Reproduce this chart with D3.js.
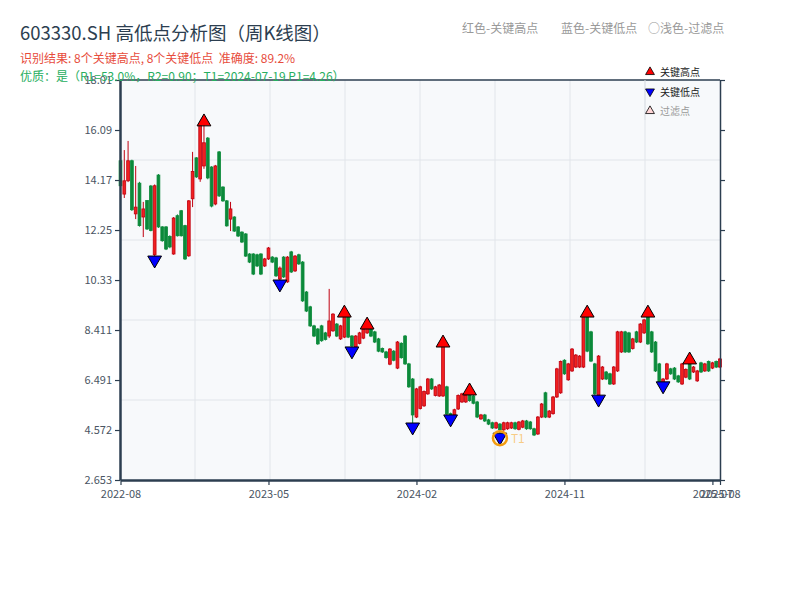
<!DOCTYPE html>
<html>
<head>
<meta charset="utf-8">
<script src="https://cdn.jsdelivr.net/npm/d3@7"></script>
<style>
  body { margin: 0; background: #fff; }
  svg text { font-family: "Noto Sans CJK SC", "Noto Sans", sans-serif; white-space: pre; }
</style>
</head>
<body>
<div id="chart"></div>
<script>
// weekly K-line (index 0 = first week of 2022-08)
const opens = [14.91,13.63,14.14,14.91,12.87,14.05,12.75,13.38,13.94,11.30,14.36,12.37,12.37,12.00,11.33,12.80,12.99,12.42,11.26,13.45,
  15.02,14.21,14.71,15.78,14.67,13.25,15.25,13.90,13.37,12.67,12.75,12.37,12.17,12.10,11.33,11.33,11.30,11.33,10.87,11.14,
  11.21,11.18,10.37,11.21,10.26,11.41,10.68,11.30,11.02,9.87,9.30,8.57,8.45,8.57,8.30,8.18,8.38,8.64,8.07,8.14,
  8.95,8.18,7.75,7.90,8.10,8.30,8.45,8.34,8.07,7.70,7.57,7.10,7.60,6.95,7.90,8.18,7.11,6.53,5.07,5.40,
  5.50,5.96,6.53,5.90,5.88,5.88,6.23,5.20,5.07,5.38,5.65,5.65,5.96,5.88,5.65,5.00,5.15,4.96,4.85,4.65,
  4.80,4.58,4.62,4.65,4.85,4.60,4.68,4.92,4.88,4.62,4.42,5.07,6.00,5.07,5.20,5.84,6.00,7.25,6.50,6.84,
  6.99,6.99,6.99,8.95,8.34,7.11,5.88,6.53,6.80,6.73,6.34,6.84,7.57,8.34,8.30,7.70,8.34,7.95,8.30,8.95,
  8.34,7.95,7.11,6.30,6.53,6.92,6.95,6.65,6.34,6.60,7.11,6.80,6.46,7.15,6.84,7.20,6.95,7.20,6.99];
const closes = [13.95,14.14,14.91,13.03,13.13,12.42,13.06,12.29,12.23,13.95,12.37,11.84,11.52,11.60,12.71,12.03,12.03,11.14,13.37,14.50,
  14.29,16.30,15.60,14.25,13.17,14.71,13.56,13.37,12.41,13.06,12.21,12.02,11.79,11.25,11.02,10.56,10.87,10.56,11.14,11.56,
  11.02,10.49,10.79,10.45,11.21,10.64,11.25,10.95,9.53,9.14,8.57,8.18,7.88,8.00,8.05,8.76,9.02,8.18,8.57,8.95,
  8.14,7.80,8.18,8.30,8.45,8.52,8.18,7.95,7.60,7.57,7.35,7.68,7.25,7.95,7.35,7.11,6.23,5.15,6.15,6.23,
  6.05,6.53,6.15,6.23,6.30,7.80,5.19,5.05,5.35,5.90,5.96,5.90,5.70,5.60,5.07,5.15,4.92,4.80,4.65,4.85,
  4.58,4.85,4.85,4.85,4.62,4.88,4.92,4.62,4.62,4.38,5.07,5.57,5.07,5.30,5.84,6.92,7.20,6.73,7.11,7.68,
  7.45,7.41,8.95,7.60,7.22,5.96,7.41,6.99,6.53,6.34,6.99,8.34,8.34,7.57,7.57,8.07,7.95,8.64,8.80,7.88,
  7.57,6.84,6.42,6.53,7.11,6.73,6.53,6.42,7.11,6.90,6.53,6.99,6.84,6.80,7.11,6.84,7.15,6.99,7.30];
const highs = [15.00,15.32,15.67,14.95,14.71,14.10,13.33,13.40,13.98,14.00,14.40,12.40,12.40,12.05,12.75,12.85,13.02,12.45,13.40,15.25,
  15.05,16.35,16.44,15.82,14.70,14.75,15.28,13.93,13.40,13.33,12.78,12.40,12.20,12.13,11.36,11.36,11.34,11.36,11.18,11.60,
  11.25,11.22,10.85,11.25,11.25,11.45,11.29,11.34,11.06,9.91,9.34,8.61,8.49,8.61,8.34,9.99,9.06,8.68,8.61,9.10,
  8.99,8.22,8.22,8.34,8.49,8.64,8.49,8.38,8.11,7.74,7.61,7.72,7.64,7.99,7.94,8.22,7.15,6.57,6.19,6.27,
  6.09,6.57,6.57,6.27,6.34,7.95,6.27,5.24,5.39,5.94,6.00,5.94,6.11,5.92,5.69,5.19,5.19,5.00,4.89,4.89,
  4.84,4.89,4.89,4.89,4.89,4.92,4.96,4.96,4.92,4.66,5.11,5.61,6.04,5.34,5.88,6.96,7.24,7.29,7.15,7.72,
  7.49,7.45,9.00,9.10,8.38,7.15,7.45,7.03,6.84,6.77,7.03,8.38,8.38,8.38,8.34,8.11,8.38,8.68,8.84,9.10,
  8.38,7.99,7.15,6.57,7.15,6.96,6.99,6.69,7.15,6.94,7.30,7.03,6.88,7.19,7.15,7.24,7.19,7.24,7.34];
const lows = [13.85,13.48,14.09,12.98,12.67,12.38,11.98,12.25,12.20,11.06,12.33,11.80,11.48,11.55,11.30,12.00,12.00,11.10,11.22,13.13,
  14.25,14.10,14.60,14.20,13.12,13.20,13.52,13.33,12.38,12.21,12.18,11.98,11.75,11.22,10.98,10.52,10.83,10.52,10.83,11.10,
  10.98,10.45,10.14,10.41,10.22,10.60,10.64,10.91,9.49,9.10,8.53,8.14,7.84,7.96,8.01,8.10,8.34,8.14,8.03,8.10,
  8.10,7.57,7.71,7.86,8.06,8.26,8.14,7.91,7.56,7.53,7.31,7.06,7.21,6.91,7.31,7.07,6.19,4.65,5.03,5.36,
  5.46,5.92,6.11,5.86,5.84,5.84,5.15,4.96,5.03,5.34,5.61,5.61,5.66,5.56,5.03,4.96,4.88,4.76,4.61,4.61,
  4.26,4.54,4.58,4.61,4.58,4.56,4.64,4.58,4.58,4.34,4.38,5.03,5.03,5.03,5.16,5.80,5.96,6.69,6.46,6.80,
  6.95,6.95,6.95,7.56,7.18,5.92,5.72,6.49,6.49,6.30,6.30,6.80,7.53,7.53,7.53,7.66,7.91,7.91,8.26,7.84,
  7.53,6.80,6.38,6.23,6.49,6.69,6.49,6.38,6.30,6.56,6.49,6.76,6.42,6.76,6.80,6.80,6.91,6.95,6.95];

const highIdx = [22, 59, 65, 85, 92, 123, 139, 150];
const lowIdx = [9, 42, 61, 77, 87, 100, 126, 143];
const t1Idx = 100, t1Price = 4.26;

const yTicks = [2.653, 4.572, 6.491, 8.411, 10.33, 12.25, 14.17, 16.09, 18.01];
const xTickIdx = [0, 39, 78, 117, 156, 158];
const xTickLabels = ["2022-08", "2023-05", "2024-02", "2024-11", "2025-07", "2025-08"];

const width = 800, height = 600;
const plot = { left: 120, right: 720, top: 80, bottom: 480 };

const svg = d3.select("#chart").append("svg").attr("width", width).attr("height", height);

const x = d3.scalePoint().domain(d3.range(opens.length)).range([plot.left + 0.5, plot.right]);
const y = d3.scaleLinear().domain([2.653, 18.01]).range([plot.bottom, plot.top]);

// background + loose grid
svg.append("rect").attr("x", plot.left).attr("y", plot.top)
    .attr("width", plot.right - plot.left).attr("height", plot.bottom - plot.top)
    .attr("fill", "#f7f9fb");

const gx = d3.scaleLinear().domain([0, 8]).range([plot.left, plot.right]);
const gy = d3.scaleLinear().domain([0, 5]).range([plot.top, plot.bottom]);
svg.append("g").selectAll("line").data(d3.range(1, 8)).join("line")
    .attr("x1", d => gx(d)).attr("x2", d => gx(d))
    .attr("y1", plot.top).attr("y2", plot.bottom)
    .attr("stroke", "#e1e5ea").attr("stroke-width", 1);
svg.append("g").selectAll("line").data(d3.range(1, 5)).join("line")
    .attr("y1", d => gy(d)).attr("y2", d => gy(d))
    .attr("x1", plot.left).attr("x2", plot.right)
    .attr("stroke", "#e1e5ea").attr("stroke-width", 1);

// candles
const upStroke = "#c00010", upFill = "#f02020", downColor = "#0b8a3a";
const candles = svg.append("g").selectAll("g").data(opens.map((o, i) => i)).join("g");
candles.append("line")
    .attr("x1", i => x(i)).attr("x2", i => x(i))
    .attr("y1", i => y(highs[i])).attr("y2", i => y(lows[i]))
    .attr("stroke", i => closes[i] >= opens[i] ? upStroke : downColor)
    .attr("stroke-width", 1);
candles.append("rect")
    .attr("x", i => x(i) - 1.4)
    .attr("width", 2.8)
    .attr("y", i => y(Math.max(opens[i], closes[i])))
    .attr("height", i => Math.max(1, Math.abs(y(opens[i]) - y(closes[i]))))
    .attr("fill", i => closes[i] >= opens[i] ? upFill : downColor)
    .attr("stroke", i => closes[i] >= opens[i] ? upStroke : downColor)
    .attr("stroke-width", 0.8);

// key points
const tri = d3.symbol().type(d3.symbolTriangle).size(82);
svg.append("g").selectAll("path").data(highIdx).join("path")
    .attr("d", tri)
    .attr("transform", i => `translate(${x(i)},${y(highs[i]) + 1})`)
    .attr("fill", "#ff0000").attr("stroke", "#000").attr("stroke-width", 1);
svg.append("g").selectAll("path").data(lowIdx).join("path")
    .attr("d", tri)
    .attr("transform", i => `translate(${x(i)},${y(lows[i]) - 1}) rotate(180)`)
    .attr("fill", "#0000ff").attr("stroke", "#000").attr("stroke-width", 1);

// T1 mark
svg.append("circle").attr("cx", x(t1Idx)).attr("cy", y(t1Price)).attr("r", 7)
    .attr("fill", "none").attr("stroke", "#f39c12").attr("stroke-width", 2.5);
svg.append("text").attr("x", x(t1Idx) + 11).attr("y", y(t1Price) + 5)
    .attr("fill", "#f8c471").attr("fill-opacity", 0.85).attr("font-size", 12).text("T1");

// axes
const axisColor = "#2c3e50";
const yAxis = d3.axisLeft(y).tickValues(yTicks).tickFormat((d, i) => String(yTicks[i])).tickSize(5).tickSizeOuter(0);
const yg = svg.append("g").attr("transform", `translate(${plot.left},0)`).call(yAxis);
const yr = svg.append("g").attr("transform", `translate(${plot.right},0)`)
    .call(d3.axisRight(y).tickValues(yTicks).tickFormat("").tickSize(5).tickSizeOuter(0));
const xAxis = d3.axisBottom(x).tickValues(xTickIdx).tickFormat((d, i) => xTickLabels[i]).tickSize(5).tickSizeOuter(0);
const xg = svg.append("g").attr("transform", `translate(0,${plot.bottom})`).call(xAxis);

[yg, yr, xg].forEach(g => {
    g.selectAll(".tick line").attr("stroke", axisColor).attr("stroke-width", 1.2);
    g.selectAll(".tick text").attr("fill", "#4a5563").attr("font-size", 11)
        .style("font-family", '"Noto Sans CJK SC", sans-serif');
});
yg.select(".domain").attr("stroke", axisColor).attr("stroke-width", 2.5);
xg.select(".domain").attr("stroke", axisColor).attr("stroke-width", 2.5);
yr.select(".domain").attr("stroke", axisColor).attr("stroke-width", 1.5);
svg.append("line").attr("x1", plot.left).attr("x2", plot.right)
    .attr("y1", plot.top).attr("y2", plot.top)
    .attr("stroke", axisColor).attr("stroke-width", 1.5);
yg.selectAll(".tick text").attr("x", -8);
xg.selectAll(".tick text").attr("y", 10);

// inner legend
const legendItems = [
    { label: "关键高点", fill: "#ff0000", rot: 0, color: "#222" },
    { label: "关键低点", fill: "#0000ff", rot: 180, color: "#222" },
    { label: "过滤点", fill: "#ffd6d6", rot: 0, color: "#999" }
];
svg.append("line").attr("x1", 645).attr("x2", 645).attr("y1", plot.top).attr("y2", 120)
    .attr("stroke", "#dde1e6");
const leg = svg.append("g").selectAll("g").data(legendItems).join("g")
    .attr("transform", (d, i) => `translate(650,${72 + i * 19.5})`);
leg.append("path").attr("d", d3.symbol().type(d3.symbolTriangle).size(34))
    .attr("transform", d => `rotate(${d.rot})`)
    .attr("fill", d => d.fill).attr("stroke", "#000").attr("stroke-width", 0.8);
leg.append("text").attr("x", 10).attr("y", 4).attr("font-size", 10)
    .attr("fill", d => d.color).text(d => d.label);

// header texts
svg.append("text").attr("x", 20).attr("y", 40).attr("font-size", 18.5).attr("fill", "#2c3e50")
    .text("603330.SH 高低点分析图（周K线图）");
svg.append("text").attr("x", 20).attr("y", 63).attr("font-size", 12).attr("fill", "#e74c3c")
    .text("识别结果: 8个关键高点, 8个关键低点  准确度: 89.2%");
svg.append("text").attr("x", 20).attr("y", 81).attr("font-size", 12).attr("fill", "#27ae60")
    .text("优质：是（R1=53.0%，R2=0.90；T1=2024-07-19 P1=4.26）");

const topLegend = [
    { x: 462, text: "红色-关键高点" },
    { x: 561, text: "蓝色-关键低点" },
    { x: 648, text: "○浅色-过滤点" }
];
svg.append("g").selectAll("text").data(topLegend).join("text")
    .attr("x", d => d.x).attr("y", 33).attr("font-size", 12).attr("fill", "#999")
    .text(d => d.text);
</script>
</body>
</html>
